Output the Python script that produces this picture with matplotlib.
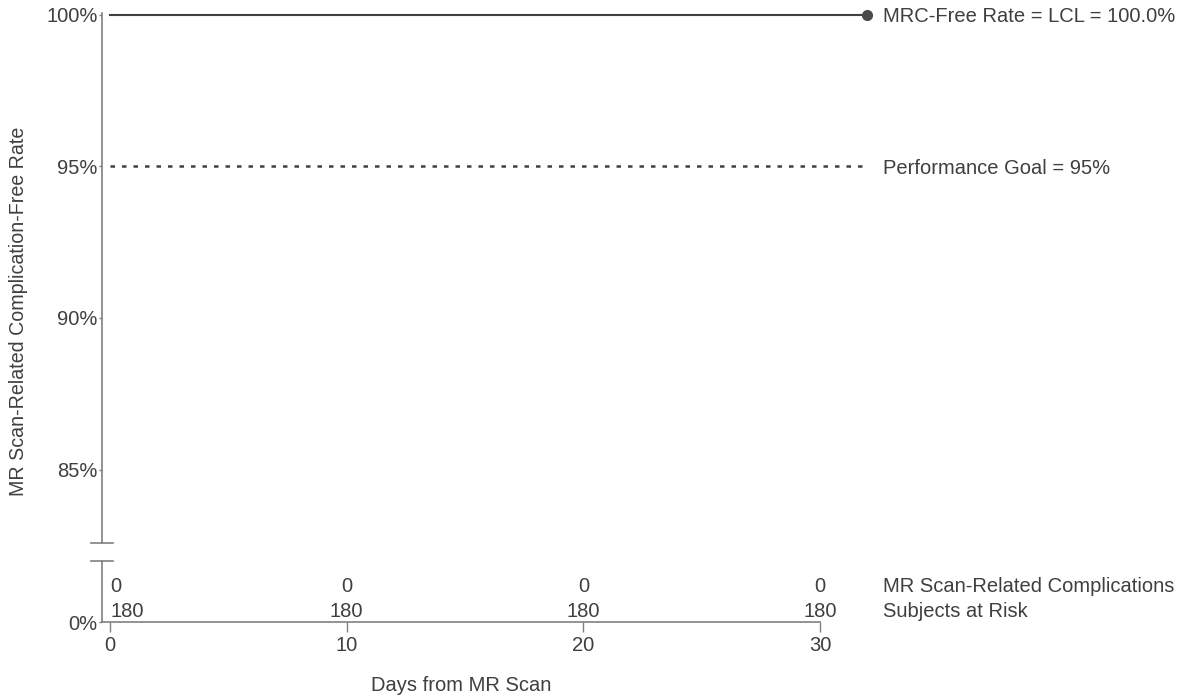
import matplotlib.pyplot as plt
from matplotlib.lines import Line2D

plt.rcParams['font.family'] = ['Liberation Sans', 'DejaVu Sans']

# data
days_ticks = [0, 10, 20, 30]
rate_ticks = [85, 90, 95, 100]
rate_labels = ["85%", "90%", "95%", "100%"]
km_days = [0, 32]
km_rate = [100.0, 100.0]
goal = 95
goal_days = [0, 31.8]
complications = [0, 0, 0, 0]
at_risk = [180, 180, 180, 180]
row_names = ["MR Scan-Related Complications", "Subjects at Risk"]

TXT = '#3f3f3f'
AX = '#808080'
FS = 14.5

W, H = 1185, 696
fig = plt.figure(figsize=(W / 100, H / 100), dpi=100)

x0, x1 = 102, 820
top_ax = fig.add_axes([x0 / W, (H - 543) / H, (x1 - x0) / W, (543 - 13) / H])
bot_ax = fig.add_axes([x0 / W, (H - 622) / H, (x1 - x0) / W, (622 - 561) / H])

xlo = -(110 - x0) / ((x1 - 110) / 30.0)
for ax in (top_ax, bot_ax):
    ax.set_xlim(xlo, 30)
    for s in ax.spines.values():
        s.set_visible(False)
    ax.spines['left'].set_visible(True)
    ax.spines['left'].set_color(AX)
    ax.spines['left'].set_linewidth(1.2)

px_per_pct = 151.5 / 5
top_ax.set_ylim(100 - (543 - 15) / px_per_pct, 100 + 2 / px_per_pct)
top_ax.set_yticks(rate_ticks, rate_labels)
top_ax.set_xticks([])
top_ax.tick_params(axis='y', length=2, width=1, color=AX, labelcolor=TXT,
                   labelsize=FS, pad=1)

# KM curve and goal line
top_ax.plot(km_days, km_rate, color='#404040', lw=1.5, clip_on=False)
top_ax.plot(km_days[-1], km_rate[-1], 'o', color='#4a4a4a', ms=7, clip_on=False)
top_ax.plot(goal_days, [goal, goal], color='#404040', lw=1.8,
            dashes=(1.8, 2.8), clip_on=False)
top_ax.text(32.65, 100 - 7 / px_per_pct, "MRC-Free Rate = LCL = 100.0%",
            color=TXT, fontsize=FS, va='baseline', ha='left', clip_on=False)
top_ax.text(32.65, goal - 8 / px_per_pct, "Performance Goal = 95%",
            color=TXT, fontsize=FS, va='baseline', ha='left', clip_on=False)

# lower axes with at-risk table (1 data unit = 1 px here)
bot_ax.set_ylim(0, 61)
bot_ax.set_yticks([0], ["0%"])
bot_ax.tick_params(axis='y', length=2, width=1, color=AX, labelcolor=TXT,
                   labelsize=FS, pad=1)
bot_ax.spines['bottom'].set_visible(True)
bot_ax.spines['bottom'].set_color(AX)
bot_ax.spines['bottom'].set_linewidth(1.2)
bot_ax.set_xticks(days_ticks)
bot_ax.tick_params(axis='x', length=7, width=1, color=AX, labelcolor=TXT,
                   labelsize=FS, pad=3)
bot_ax.set_xlabel("Days from MR Scan", color=TXT, fontsize=FS, labelpad=15)

row_y = [30, 5]
for i, d in enumerate(days_ticks):
    ha = 'left' if i == 0 else 'center'
    bot_ax.text(d, row_y[0], str(complications[i]), color=TXT,
                fontsize=FS, ha=ha, va='baseline')
    bot_ax.text(d, row_y[1], str(at_risk[i]), color=TXT,
                fontsize=FS, ha=ha, va='baseline')
for name, yy in zip(row_names, row_y):
    bot_ax.text(32.65, yy, name, color=TXT, fontsize=FS,
                ha='left', va='baseline', clip_on=False)

# axis break caps
for yy in (543, 561):
    fig.add_artist(Line2D([91 / W, 113 / W], [(H - yy) / H, (H - yy) / H],
                          color=AX, lw=1.2))

fig.text(18.5 / W, (H - 311) / H, "MR Scan-Related Complication-Free Rate",
         rotation=90, color=TXT, fontsize=14.1, ha='center', va='center')

fig.savefig("out.png", dpi=100)
